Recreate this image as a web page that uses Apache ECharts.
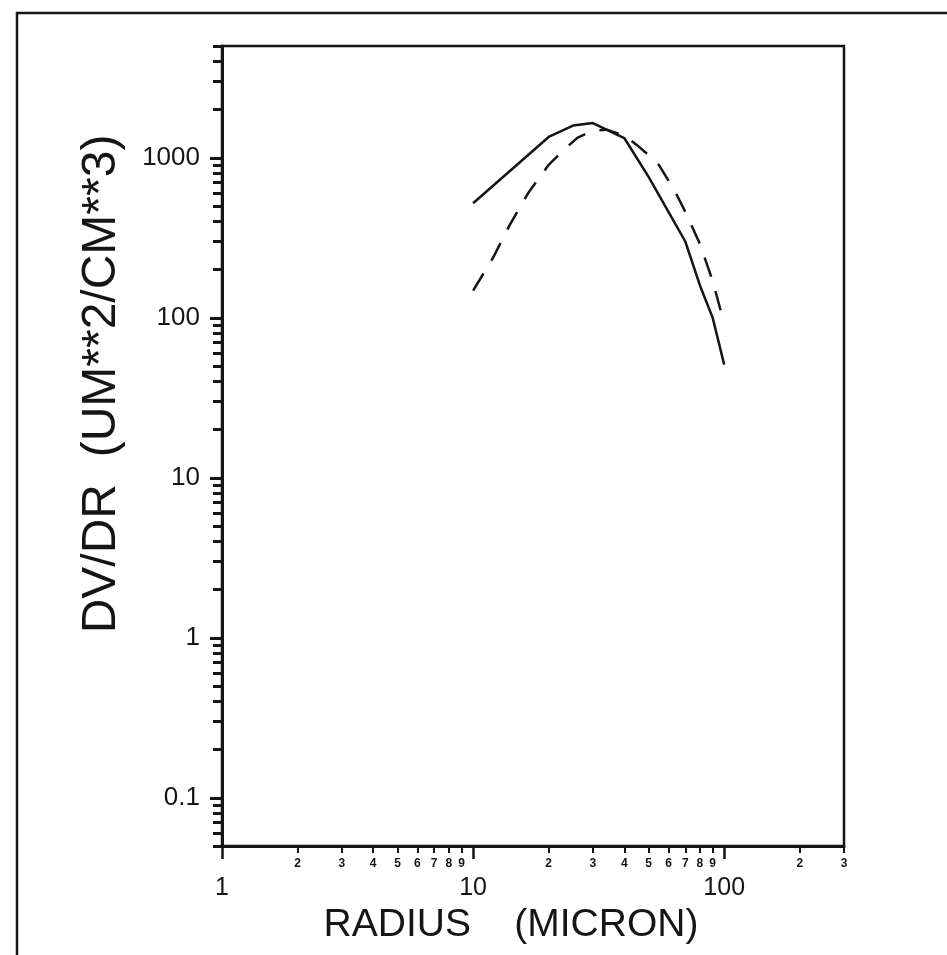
<!DOCTYPE html>
<html><head><meta charset="utf-8">
<script src="https://cdn.jsdelivr.net/npm/echarts@6/dist/echarts.min.js"></script>
<style>html,body{margin:0;padding:0;background:#fff}#c{width:947px;height:955px}</style>
</head><body><div id="c"></div>
<script>
// ---- data ----
const radiusSolid = [10, 20, 25, 30, 40, 50, 60, 70, 80, 90, 100];
const dvdrSolid   = [520, 1350, 1590, 1650, 1330, 760, 460, 300, 160, 100, 51];
const radiusDashed = [10, 12, 14, 16.6, 20, 23, 26, 30, 34, 40, 45, 50, 55, 60, 65, 70, 80, 90, 100];
const dvdrDashed   = [148, 237, 381, 605, 904, 1122, 1333, 1480, 1500, 1380, 1200, 1040, 900, 720, 580, 460, 290, 170, 92];

const yMajorTicks = [0.1, 1, 10, 100, 1000];
const yMajorLabels = ['0.1', '1', '10', '100', '1000'];
const yMinorTicks = [0.05, 0.06, 0.07, 0.08, 0.09, 0.2, 0.3, 0.4, 0.5, 0.6, 0.7, 0.8, 0.9,
  2, 3, 4, 5, 6, 7, 8, 9, 20, 30, 40, 50, 60, 70, 80, 90,
  200, 300, 400, 500, 600, 700, 800, 900, 2000, 3000, 4000, 5000];
const xMajorTicks = [1, 10, 100];
const xMajorLabels = ['1', '10', '100'];
const xMinorTicks = [2, 3, 4, 5, 6, 7, 8, 9, 20, 30, 40, 50, 60, 70, 80, 90, 200, 300];
const xMinorLabels = ['2', '3', '4', '5', '6', '7', '8', '9', '2', '3', '4', '5', '6', '7', '8', '9', '2', '3'];

function lookup(ticks, labels, v) {
  let best = 0, bd = Infinity;
  for (let i = 0; i < ticks.length; i++) {
    const d = Math.abs(Math.log10(ticks[i]) - Math.log10(v));
    if (d < bd) { bd = d; best = i; }
  }
  return bd < 0.01 ? labels[best] : '';
}

const ink = '#151515';
const FONT = '"Liberation Sans", Arial, sans-serif';
const chart = echarts.init(document.getElementById('c'), null, { renderer: 'canvas' });

const axisCommonX = { type: 'log', logBase: 10, min: 1, max: 300, position: 'bottom', gridIndex: 0, splitLine: { show: false } };
const axisCommonY = { type: 'log', logBase: 10, min: 0.05, max: 5000, position: 'left', gridIndex: 0, splitLine: { show: false } };

chart.setOption({
  animation: false,
  backgroundColor: '#fff',
  grid: { left: 222, top: 46, width: 622, height: 800, show: true, borderColor: ink, borderWidth: 2.5, containLabel: false },
  xAxis: [
    Object.assign({}, axisCommonX, {
      axisLine: { show: true, lineStyle: { color: ink, width: 3 } },
      axisTick: { show: true, inside: false, length: 13, customValues: xMajorTicks, lineStyle: { color: ink, width: 2.5 } },
      axisLabel: { show: true, customValues: xMajorTicks, margin: 30, color: ink, fontFamily: FONT, fontSize: 25,
        formatter: v => lookup(xMajorTicks, xMajorLabels, v) },
      name: 'RADIUS    (MICRON)', nameLocation: 'middle', nameGap: 54,
      nameTextStyle: { color: ink, fontFamily: FONT, fontSize: 39, padding: [0, 44, 0, 0] }
    }),
    Object.assign({}, axisCommonX, {
      axisLine: { show: false },
      axisTick: { show: true, inside: false, length: 7, customValues: xMinorTicks, lineStyle: { color: ink, width: 2 } },
      axisLabel: { show: true, customValues: xMinorTicks, margin: 12, color: ink, fontFamily: FONT, fontSize: 12, fontWeight: 'bold',
        formatter: v => lookup(xMinorTicks, xMinorLabels, v) }
    })
  ],
  yAxis: [
    Object.assign({}, axisCommonY, {
      axisLine: { show: true, lineStyle: { color: ink, width: 3 } },
      axisTick: { show: true, inside: false, length: 12, customValues: yMajorTicks, lineStyle: { color: ink, width: 3 } },
      axisLabel: { show: true, customValues: yMajorTicks, margin: 22, color: ink, fontFamily: FONT, fontSize: 26,
        formatter: v => lookup(yMajorTicks, yMajorLabels, v) },
      name: 'DV/DR  (UM**2/CM**3)', nameLocation: 'middle', nameGap: 96, nameRotate: 90,
      nameTextStyle: { color: ink, fontFamily: FONT, fontSize: 48, padding: [0, 0, 0, 124] }
    }),
    Object.assign({}, axisCommonY, {
      axisLine: { show: false },
      axisTick: { show: true, inside: false, length: 9, customValues: yMinorTicks, lineStyle: { color: ink, width: 3 } },
      axisLabel: { show: false }
    })
  ],
  series: [
    {
      type: 'line', xAxisIndex: 0, yAxisIndex: 0, showSymbol: false, symbol: 'none', smooth: false,
      data: radiusSolid.map((r, i) => [r, dvdrSolid[i]]),
      lineStyle: { color: ink, width: 2.5, type: 'solid' }
    },
    {
      type: 'line', xAxisIndex: 0, yAxisIndex: 0, showSymbol: false, symbol: 'none', smooth: false,
      data: radiusDashed.map((r, i) => [r, dvdrDashed[i]]),
      lineStyle: { color: ink, width: 2.5, type: [20, 15] }
    }
  ],
  graphic: [
    { type: 'rect', shape: { x: 17, y: 13, width: 1000, height: 1000 }, style: { fill: 'none', stroke: ink, lineWidth: 2.5 }, silent: true, z: -1 }
  ]
});
</script>
</body></html>
